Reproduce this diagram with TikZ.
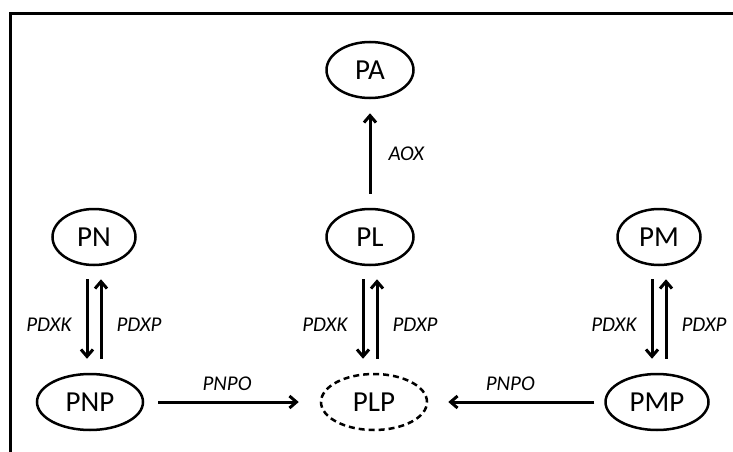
\documentclass[tikz,border=0pt]{standalone}
\usepackage{fontspec}
\setmainfont{Carlito}
\usetikzlibrary{shapes.geometric,arrows.meta}
\tikzset{
  mol/.style={draw, ellipse, line width=2.5pt, inner sep=0pt, minimum height=56pt, font=\fontsize{29}{32}\selectfont},
  rx/.style={-{Straight Barb[length=7pt,width=12pt]}, line width=3pt},
  enz/.style={font=\fontsize{21}{24}\selectfont\itshape, inner sep=0pt}
}
\begin{document}
\begin{tikzpicture}[x=1pt,y=-1pt]
\useasboundingbox (0,0) rectangle (733,452);
\draw[line width=3pt] (10,452) -- (10,14) -- (733,14);
\node[mol, minimum width=87pt] (pa) at (370,70) {PA};
\node[mol, minimum width=83pt] (pn) at (94,237) {PN};
\node[mol, minimum width=87pt] (pl) at (370,237) {PL};
\node[mol, minimum width=83pt] (pm) at (659,237) {PM};
\node[mol, minimum width=106pt] (pnp) at (90,402) {PNP};
\node[mol, minimum width=106pt, dash pattern=on 6pt off 4pt] (plp) at (374,402) {PLP};
\node[mol, minimum width=103pt] (pmp) at (657,402) {PMP};
\draw[rx, shorten <=14pt, shorten >=14pt] (pl) -- (pa) node[enz, midway, right=17pt] {AOX};
\draw[rx, shorten <=13pt, shorten >=14pt] ([xshift=-7pt]pn.south) -- ([xshift=-7pt]pn.south |- pnp.north) node[enz, midway, left=14pt, yshift=-5pt] {PDXK};
\draw[rx, shorten <=14pt, shorten >=13pt] ([xshift=7pt]pn.south |- pnp.north) -- ([xshift=7pt]pn.south) node[enz, midway, right=14pt, yshift=-5pt] {PDXP};
\draw[rx, shorten <=13pt, shorten >=14pt] ([xshift=-7pt]pl.south) -- ([xshift=-7pt]pl.south |- plp.north) node[enz, midway, left=14pt, yshift=-5pt] {PDXK};
\draw[rx, shorten <=14pt, shorten >=13pt] ([xshift=7pt]pl.south |- plp.north) -- ([xshift=7pt]pl.south) node[enz, midway, right=14pt, yshift=-5pt] {PDXP};
\draw[rx, shorten <=13pt, shorten >=14pt] ([xshift=-7pt]pm.south) -- ([xshift=-7pt]pm.south |- pmp.north) node[enz, midway, left=14pt, yshift=-5pt] {PDXK};
\draw[rx, shorten <=14pt, shorten >=13pt] ([xshift=7pt]pm.south |- pmp.north) -- ([xshift=7pt]pm.south) node[enz, midway, right=14pt, yshift=-5pt] {PDXP};
\draw[rx, shorten <=14pt, shorten >=21pt] (pnp) -- (plp) node[enz, midway, above=10pt, xshift=-5pt] {PNPO};
\draw[rx, shorten <=10pt, shorten >=20pt] (pmp) -- (plp) node[enz, midway, above=10pt, xshift=-6pt] {PNPO};
\end{tikzpicture}
\end{document}
